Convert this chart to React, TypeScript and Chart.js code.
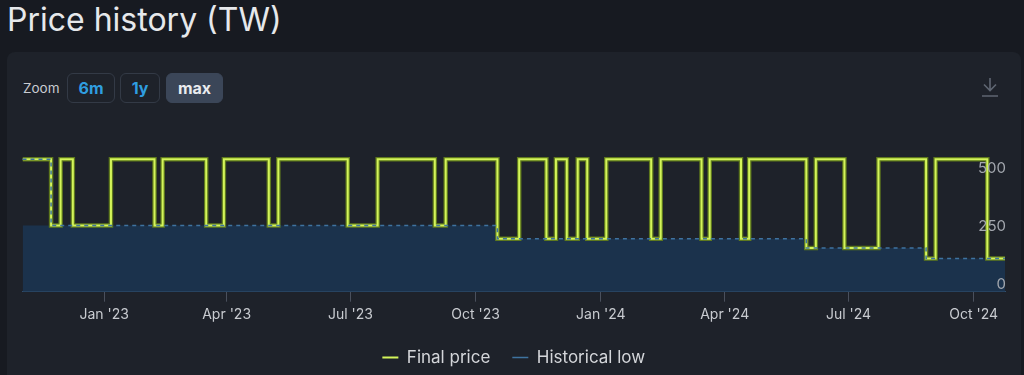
import React, { useEffect, useRef } from "react";
import { Chart, registerables } from "chart.js";
Chart.register(...registerables);

// ---- data ----
const priceDates = [
  "2022-11-02", "2022-11-23", "2022-11-30", "2022-12-09", "2023-01-06",
  "2023-02-07", "2023-02-13", "2023-03-17", "2023-03-30", "2023-05-02",
  "2023-05-09", "2023-06-29", "2023-07-21", "2023-09-01", "2023-09-09",
  "2023-10-17", "2023-11-02", "2023-11-22", "2023-11-29", "2023-12-07",
  "2023-12-15", "2023-12-22", "2024-01-05", "2024-02-07", "2024-02-14",
  "2024-03-15", "2024-03-21", "2024-04-13", "2024-04-19", "2024-05-31",
  "2024-06-07", "2024-06-28", "2024-07-23", "2024-08-27", "2024-09-03",
  "2024-10-11", "2024-10-24",
];
const priceValues = [
  568, 284, 568, 284, 568,
  284, 568, 284, 568, 284,
  568, 284, 568, 284, 568,
  227, 568, 227, 568, 227,
  568, 227, 568, 227, 568,
  227, 568, 227, 568, 187,
  568, 187, 568, 142, 568,
  142, 142,
];
// historical-low dashed line
const lowDates = ["2022-11-02", "2022-11-23", "2023-10-17", "2024-05-31", "2024-08-27", "2024-10-24"];
const lowValues = [568, 284, 227, 187, 142, 142];
// top edge of the shaded area under the historical low
const shadeDates = ["2022-11-02", "2023-10-17", "2024-05-31", "2024-08-27", "2024-10-24"];
const shadeValues = [284, 227, 187, 142, 142];

const xTickDates = ["2023-01-01", "2023-04-01", "2023-07-01", "2023-10-01", "2024-01-01", "2024-04-01", "2024-07-01", "2024-10-01"];
const yTickValues = [0, 250, 500];
const xRange = ["2022-11-02", "2024-10-24"];
const yRange = [0, 600];
const MONTHS = ["Jan", "Feb", "Mar", "Apr", "May", "Jun", "Jul", "Aug", "Sep", "Oct", "Nov", "Dec"];

function ts(d: string): number {
  const [y, m, dd] = d.split("-").map(Number);
  return Date.UTC(y, m - 1, dd);
}
function fmtMonth(v: number): string {
  const d = new Date(v);
  return `${MONTHS[d.getUTCMonth()]} '${String(d.getUTCFullYear()).slice(2)}`;
}

const FONT = "Inter, 'Noto Sans', sans-serif";

export default function App() {
  const canvasRef = useRef<HTMLCanvasElement | null>(null);

  useEffect(() => {
    if (!canvasRef.current) return;
    Chart.defaults.font.family = FONT;
    const priceData = priceDates.map((d, i) => ({ x: ts(d), y: priceValues[i] }));
    const lowData = lowDates.map((d, i) => ({ x: ts(d), y: lowValues[i] }));
    const shadeData = shadeDates.map((d, i) => ({ x: ts(d), y: shadeValues[i] }));

    const chart = new Chart(canvasRef.current, {
      type: "line",
      data: {
        datasets: [
          {
            label: "Final price",
            data: priceData,
            stepped: "before",
            borderColor: "#d4f55a",
            backgroundColor: "#d4f55a",
            borderWidth: 2,
            pointRadius: 0,
            fill: false,
            borderJoinStyle: "miter",
            order: 1,
          },
          {
            label: "Historical low",
            data: lowData,
            stepped: "before",
            borderColor: "#3f73a0",
            backgroundColor: "#1b324c",
            borderWidth: 1.5,
            borderDash: [4, 4],
            pointRadius: 0,
            fill: false,
            order: 0,
          },
          {
            label: "outline",
            data: priceData,
            stepped: "before",
            borderColor: "rgba(98,125,28,0.95)",
            borderWidth: 4.5,
            pointRadius: 0,
            fill: false,
            borderJoinStyle: "miter",
            order: 2,
          },
          {
            label: "shade",
            data: shadeData,
            stepped: "before",
            borderColor: "rgba(0,0,0,0)",
            backgroundColor: "#1b324c",
            borderWidth: 0,
            pointRadius: 0,
            fill: "origin",
            order: 3,
          },
        ],
      },
      options: {
        animation: false,
        responsive: false,
        maintainAspectRatio: false,
        layout: { padding: { left: 14.5, right: 15, top: 41.7, bottom: 0 } },
        scales: {
          x: {
            type: "linear",
            min: ts(xRange[0]),
            max: ts(xRange[1]),
            afterBuildTicks: (s: any) => {
              s.ticks = xTickDates.map((d) => ({ value: ts(d) }));
            },
            afterFit: (s: any) => {
              s.height = 35.3;
            },
            ticks: {
              callback: (v: any) => fmtMonth(Number(v)),
              color: "#c8cbd0",
              font: { size: 14 },
              padding: 5,
              maxRotation: 0,
              autoSkip: false,
            },
            grid: { display: true, drawOnChartArea: false, drawTicks: true, tickLength: 10, color: "#4a505d" },
            border: { display: true, color: "#32506f", width: 1 },
          },
          y: {
            position: "right",
            min: yRange[0],
            max: yRange[1],
            afterBuildTicks: (s: any) => {
              s.ticks = yTickValues.map((v) => ({ value: v }));
            },
            afterFit: (s: any) => {
              s.width = 0;
            },
            ticks: {
              z: 1,
              mirror: true,
              padding: 1,
              labelOffset: -7,
              color: "#a3a7ae",
              font: { size: 15 },
            },
            grid: { display: false, drawTicks: false },
            border: { display: false },
          },
        },
        plugins: {
          filler: { drawTime: "beforeDatasetsDraw" },
          tooltip: { enabled: false },
          legend: {
            position: "bottom",
            labels: {
              usePointStyle: true,
              pointStyle: "line",
              pointStyleWidth: 16,
              color: "#d4d6da",
              font: { size: 17 },
              padding: 22,
              filter: (item: any) => item.datasetIndex === 0 || item.datasetIndex === 1,
              sort: (a: any, b: any) => a.datasetIndex - b.datasetIndex,
            },
          },
        },
      } as any,
    });
    return () => chart.destroy();
  }, []);

  const btn = (left: number, width: number, text: string, active: boolean) => (
    <div
      style={{
        position: "absolute",
        left,
        top: 73,
        width,
        height: 30,
        boxSizing: "border-box",
        border: active ? "1px solid #3b4658" : "1px solid #333a46",
        background: active ? "#3b4658" : "transparent",
        borderRadius: 6,
        color: active ? "#e9ebee" : "#2f9ee0",
        fontWeight: 700,
        fontSize: 16,
        display: "flex",
        alignItems: "center",
        justifyContent: "center",
      }}
    >
      {text}
    </div>
  );

  return (
    <div
      style={{
        position: "fixed",
        left: 0,
        top: 0,
        width: 1024,
        height: 375,
        background: "#171a21",
        overflow: "hidden",
        fontFamily: FONT,
      }}
    >
      <div
        style={{
          position: "absolute",
          left: 7,
          top: -2,
          fontSize: 32,
          lineHeight: "44px",
          color: "#e6e8eb",
          whiteSpace: "nowrap",
        }}
      >
        Price history (TW)
      </div>
      <div
        style={{
          position: "absolute",
          left: 7,
          top: 52,
          width: 1014,
          height: 340,
          background: "#1e222a",
          borderRadius: 8,
        }}
      />
      <div style={{ position: "absolute", left: 23, top: 80, fontSize: 13.5, lineHeight: "16px", color: "#c9ccd1" }}>Zoom</div>
      {btn(67, 48, "6m", false)}
      {btn(120, 40, "1y", false)}
      {btn(166, 57, "max", true)}
      <svg style={{ position: "absolute", left: 979, top: 76 }} width="22" height="22" viewBox="0 0 22 22">
        <path d="M11 2 V14 M5 8.5 L11 14.5 L17 8.5 M3 20 H19" stroke="#5f6672" strokeWidth="1.6" fill="none" />
      </svg>
      <canvas
        ref={canvasRef}
        width={1012}
        height={266}
        style={{ position: "absolute", left: 8, top: 110, width: 1012, height: 266 }}
      />
    </div>
  );
}
